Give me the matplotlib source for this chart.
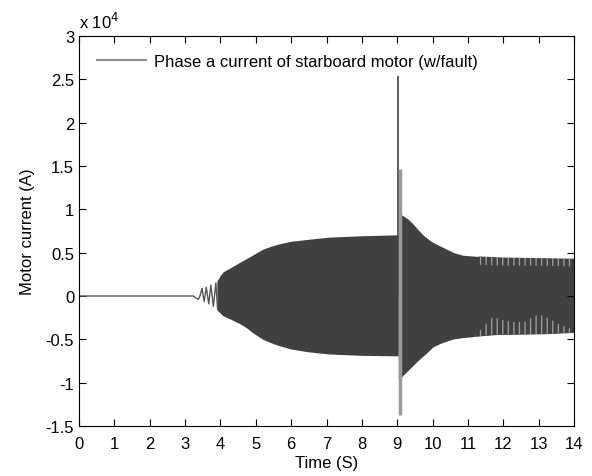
import numpy as np
import matplotlib
matplotlib.use('Agg')
import matplotlib.pyplot as plt
from matplotlib.ticker import FuncFormatter

plt.rcParams['font.family'] = ['Liberation Sans', 'DejaVu Sans']
plt.rcParams['hatch.linewidth'] = 1.0

# quiet period and start-up ripple (t in s, current in A)
t_start = [0.0, 3.23, 3.28, 3.37, 3.42, 3.48, 3.54, 3.60, 3.67, 3.73, 3.80, 3.87, 3.92]
i_start = [0, 0, -150, -400, 0, 900, -650, 1000, -900, 1250, -1200, 1500, -1500]

# envelope of the dense oscillation before the fault
t_pre = [3.90, 4.00, 4.08, 4.30, 4.55, 4.75, 4.90, 5.20, 5.40, 5.60, 5.97, 6.50, 7.10, 8.00, 8.90, 9.03]
up_pre = [1700, 2400, 2800, 3300, 3900, 4350, 4700, 5400, 5700, 5950, 6300, 6550, 6800, 6950, 7050, 7050]
lo_pre = [-1600, -2000, -2300, -2700, -3200, -3700, -4200, -5000, -5350, -5650, -6100, -6450, -6700, -6850, -6900, -6900]

# envelope after the fault
t_post = [9.03, 9.08, 9.15, 9.30, 9.45, 9.60, 9.74, 9.93, 10.0, 10.2, 10.4, 10.6, 10.86, 11.34, 11.8, 12.5, 13.2, 14.0]
up_post = [9400, 9400, 9300, 8900, 8300, 7600, 7000, 6400, 6200, 5800, 5400, 5000, 4700, 4550, 4450, 4400, 4350, 4300]
lo_post = [-9600, -9600, -9200, -8600, -8000, -7400, -6900, -6200, -5900, -5500, -5200, -4950, -4800, -4600, -4450, -4400, -4350, -4200]

# lighter striped bands inside the envelope
t_band = [11.2, 11.5, 11.7, 12.0, 12.3, 12.6, 12.8, 13.0, 13.3, 13.6, 14.0]
lo_band = [-4600, -3300, -2400, -2800, -3000, -3000, -2500, -2100, -2600, -3300, -3900]
t_topband = [11.3, 12.0, 13.0, 14.0]
top_band = [3600, 3500, 3500, 3400]

# fault spikes
t_spike = 9.03
spike_top = 25400
t_flash = 9.07
flash_lo, flash_hi = -13700, 14600

dark = '#404040'
light = '#9a9a9a'

fig = plt.figure(figsize=(5.92, 4.77), dpi=100)
ax = fig.add_axes([79 / 592, 1 - 427 / 477, 495 / 592, 390 / 477])

ax.plot(t_start, i_start, color='#555555', lw=1.0)
ax.fill_between(t_pre, lo_pre, up_pre, color=dark, lw=0)
ax.fill_between(t_post, lo_post, up_post, color=dark, lw=0)
ax.fill_between(t_band, np.interp(t_band, t_post, lo_post), lo_band,
                facecolor=dark, edgecolor=light, hatch='|||', lw=0)
ax.fill_between(t_topband, top_band, np.interp(t_topband, t_post, up_post),
                facecolor=dark, edgecolor=light, hatch='|||', lw=0)
ax.vlines(t_spike, 0, spike_top, color=dark, lw=1.2)
ax.vlines(t_flash, flash_lo, flash_hi, color=light, lw=2.5)

ax.plot([], [], color='#8c8c8c', lw=1.5,
        label='Phase a current of starboard motor (w/fault)')
ax.legend(loc='upper left', frameon=False, fontsize=12, handlelength=2.9,
          borderaxespad=0.7, handletextpad=0.5)

ax.set_xlim(0, 14)
ax.set_ylim(-15000, 30000)
ax.set_xticks(range(0, 15))
ax.set_yticks(np.arange(-15000, 30001, 5000))
ax.yaxis.set_major_formatter(FuncFormatter(lambda v, p: '%g' % (v / 1e4)))
ax.tick_params(direction='in', top=True, right=True, labelsize=12, length=5, width=0.8)
ax.tick_params(axis='x', pad=7)
ax.set_xlabel('Time (S)', fontsize=12, labelpad=3)
ax.set_ylabel('Motor current (A)', fontsize=12, labelpad=8)
ax.text(0.0, 1.012, 'x 10$^4$', transform=ax.transAxes, fontsize=12, ha='left', va='bottom')

fig.savefig('out.png', dpi=100)
